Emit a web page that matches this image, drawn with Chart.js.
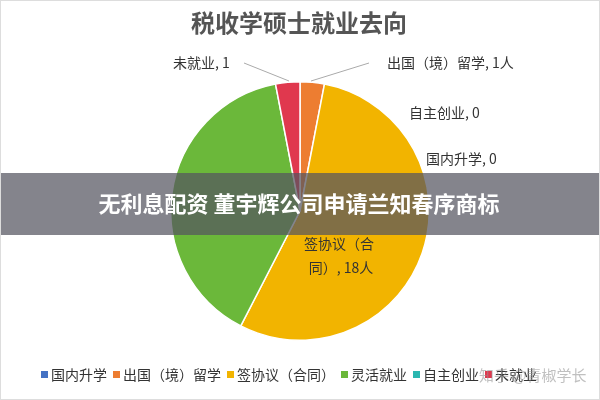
<!DOCTYPE html><html><head><meta charset="utf-8">
<script src="https://cdn.jsdelivr.net/npm/chart.js@4"></script>
<style>html,body{margin:0;background:#fff}#w{position:relative;width:600px;height:400px;box-sizing:border-box;border:1px solid #ddd}</style></head><body>
<div id="w"><canvas id="c" width="598" height="398"></canvas></div>
<script>
const categories=['国内升学','出国（境）留学','签协议（合同）','灵活就业','自主创业','未就业'];
const values=[0,1,18,13,0,1];
const colors=['#4472C4','#ED7D31','#F2B400','#6BB83A','#2BB7B0','#E0384E'];
const F='"Noto Sans CJK SC","Noto Sans",sans-serif';
const deco={id:'deco',afterDraw(ch){const x=ch.ctx;x.save();
x.fillStyle='#555';x.font='bold 24px '+F;x.textAlign='center';x.textBaseline='middle';x.fillText('税收学硕士就业去向',298,22);
x.font='14px '+F;x.fillStyle='#333';x.textAlign='left';
x.fillText('未就业, 1',172,62);x.fillText('出国（境）留学, 1人',386,62);x.fillText('自主创业, 0',408,112);x.fillText('国内升学, 0',425,158);
x.textAlign='center';x.fillText('签协议（合',338,243);x.fillText('同）, 18人',340,267);
x.strokeStyle='#aaa';x.lineWidth=1;x.beginPath();x.moveTo(243,62);x.lineTo(288,80);x.moveTo(368,62);x.lineTo(310,80);x.stroke();
let lx=40;x.font='14px '+F;x.textAlign='left';
categories.forEach((c,i)=>{x.fillStyle=colors[i];x.fillRect(lx,370,7,7);x.fillStyle='#333';x.fillText(c,lx+10,374);lx+=10+x.measureText(c).width+6;});
x.fillStyle='rgba(85,85,95,0.72)';x.fillRect(0,172,598,62);
x.fillStyle='#fff';x.font='bold 22px '+F;x.textAlign='center';x.fillText('无利息配资 董宇辉公司申请兰知春序商标',298,203);
x.fillStyle='rgba(150,150,150,0.6)';x.font='15px '+F;x.textAlign='left';x.fillText('知乎 @青椒学长',478,374);
x.restore();}};
new Chart(document.getElementById('c'),{type:'pie',data:{labels:categories,datasets:[{data:values,backgroundColor:colors,borderColor:'#fff',borderWidth:1.5}]},
options:{responsive:false,animation:false,layout:{padding:{top:80,bottom:58,left:0,right:0}},plugins:{legend:{display:false},tooltip:{enabled:false}}},plugins:[deco]});
</script></body></html>
